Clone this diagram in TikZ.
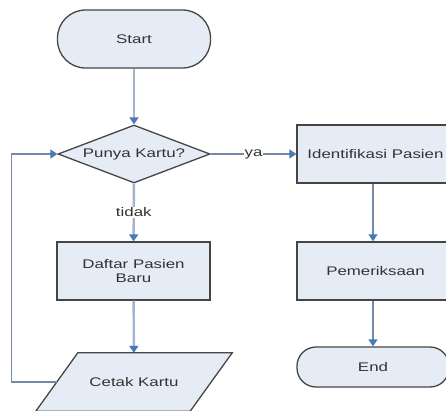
\documentclass[tikz,border=0pt]{standalone}
\usepackage{fontspec}
\setmainfont{Liberation Sans}[FakeStretch=1.35]
\usetikzlibrary{shapes.geometric,arrows.meta,calc}

\definecolor{boxfill}{HTML}{E6ECF6}
\definecolor{boxline}{HTML}{454545}
\definecolor{flowline}{HTML}{A3B5CC}
\definecolor{flowdark}{HTML}{7489A6}
\definecolor{tipblue}{HTML}{4A78B4}
\definecolor{txt}{HTML}{333333}

\tikzset{
  base/.style={fill=boxfill, draw=boxline, line width=1.3pt, text=txt,
    font=\fontsize{12.5}{14.5}\selectfont, align=center, inner sep=0pt},
  terminal/.style={base, rectangle, rounded corners=#1},
  process/.style={base, rectangle, minimum width=153pt, minimum height=58pt},
  decision/.style={base, diamond, minimum width=152pt, minimum height=58pt, aspect=2.6},
  iolabel/.style={text=txt, font=\fontsize{12.5}{14.5}\selectfont, inner sep=0pt,
    minimum width=154pt, minimum height=58pt},
  flow/.style={draw=flowline, line width=2.4pt, -{Triangle[width=9pt,length=7pt,color=tipblue]}},
  flowthin/.style={draw=flowdark, line width=1.3pt, -{Triangle[width=9pt,length=7pt,color=tipblue]}},
  edgelabel/.style={fill=white, text=txt, font=\fontsize{12.5}{14.5}\selectfont, inner sep=1pt}
}

\begin{document}
\begin{tikzpicture}[x=1pt,y=-1pt]
\useasboundingbox (0,0) rectangle (446,410);

% left column
\node[terminal=28pt, minimum width=153pt, minimum height=58pt] (start) at (134,39) {Start};
\node[decision] (kartu) at (134,154) {Punya Kartu?};
\node[process] (daftar) at (133.5,271) {Daftar Pasien\\Baru};
\node[iolabel] (cetak) at (134,382) {};
\draw[base] ($(cetak.north west)+(21,0)$) -- ($(cetak.north east)+(21,0)$)
  -- ($(cetak.south east)+(-21,0)$) -- ($(cetak.south west)+(-21,0)$) -- cycle;
\node[text=txt, font=\fontsize{12.5}{14.5}\selectfont] at (cetak.center) {Cetak Kartu};

% right column (its right edge runs past the page)
\node[process, minimum width=157pt] (ident) at (375.5,154) {Identifikasi Pasien};
\node[process, minimum width=157pt] (periksa) at (375.5,271) {Pemeriksaan};
\node[terminal=19pt, minimum width=152pt, minimum height=40pt] (end) at (373,367) {End};

% connectors
\draw[flow] (start) -- (kartu);
\draw[flow] (kartu) -- node[edgelabel, pos=0.5] {tidak} (daftar);
\draw[flow] (daftar) -- (cetak);
\draw[flowthin] (kartu) -- node[edgelabel, pos=0.5] {ya} (ident);
\draw[flowthin] (ident.south -| end.north) -- (periksa.north -| end.north);
\draw[flowthin] (periksa.south -| end.north) -- (end);
\draw[flowthin] (cetak.west) -- ++(-45,0) |- (kartu.west);
\end{tikzpicture}
\end{document}
